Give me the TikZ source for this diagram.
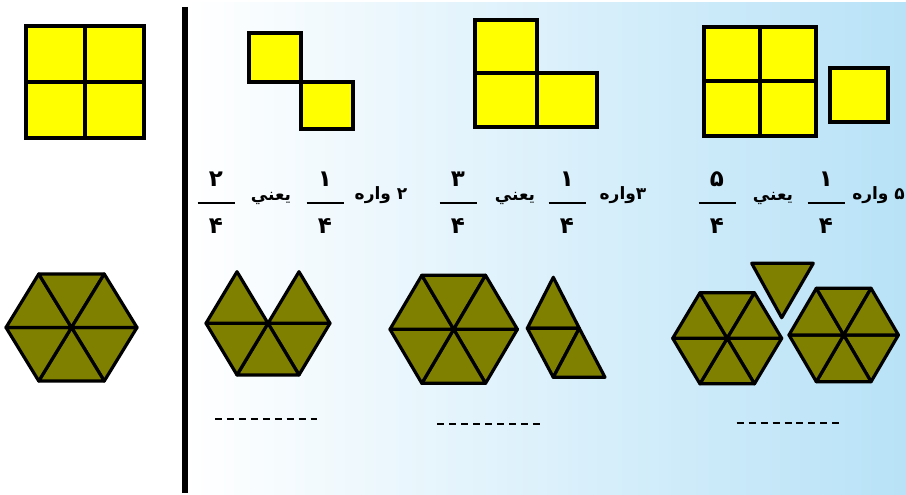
\documentclass[tikz,border=0pt]{standalone}
\usepackage{fontspec}
\newfontfamily\arabicfont[Script=Arabic]{DejaVu Sans}
\TeXXeTstate=1
\usetikzlibrary{positioning}

\definecolor{skyend}{RGB}{184,226,247}
\definecolor{olivetri}{RGB}{128,128,0}
\definecolor{squareyellow}{RGB}{255,255,0}

\tikzset{
  sq/.style={draw=black,fill=squareyellow,line width=3.5pt},
  tri/.style={draw=black,fill=olivetri,line width=3.2pt,line join=round},
  digit/.style={font=\arabicfont\bfseries\fontsize{23}{25}\selectfont,inner sep=0pt},
  word/.style={font=\arabicfont\bfseries\fontsize{17}{19}\selectfont,inner sep=0pt},
  fracbar/.style={line width=1.8pt},
  blank/.style={line width=2.3pt,dash pattern=on 7pt off 4.95pt}
}

% part of a hexagon: centre, half width, half height, start angles of the triangles
\newcommand{\hexpart}[5]{%
  \begin{scope}[shift={(#1,#2)},xscale=#3,yscale=#4/0.866]
    \foreach \a in {#5}
      \draw[tri] (0,0) -- (\a:1) -- (\a+60:1) -- cycle;
  \end{scope}}

% a fraction: name, centre x, numerator, denominator
\newcommand{\fracpart}[4]{%
  \node[digit] (#1num) at (#2,179) {#3};
  \coordinate (#1l) at (#2-18.5,203);
  \coordinate (#1r) at (#2+18.5,203);
  \draw[fracbar] (#1l) -- (#1r);
  \node[digit] (#1den) at (#2,226) {#4};}

\begin{document}
\begin{tikzpicture}[x=1pt,y=-1pt]
  \useasboundingbox (0,0) rectangle (906,495);

  % background
  \fill[left color=white,right color=skyend] (188,3) rectangle (906,494);
  \draw[line width=6pt] (185,7) -- (185,493);

  % whole: four squares
  \foreach \x/\y in {26/26,85/26,26/82,85/82}
    \draw[sq] (\x,\y) rectangle ++(59,56);

  % two squares
  \draw[sq] (249,33) rectangle (301,82);
  \draw[sq] (301,82) rectangle (353,129);

  % three squares
  \draw[sq] (475,20) rectangle (537,73);
  \draw[sq] (475,73) rectangle (537,127);
  \draw[sq] (537,73) rectangle (597,127);

  % five squares
  \foreach \x/\y in {704/27,760/27,704/81,760/81}
    \draw[sq] (\x,\y) rectangle ++(56,55);
  \draw[sq] (830,68) rectangle (888,122);

  % texts
  \fracpart{fa}{216}{۲}{۴}
  \node[word] (ya) at (271,198) {\beginR يعني\endR};
  \fracpart{fb}{325}{۱}{۴}
  \node[word] (wa) at (381,195) {\beginR ۲ واره\endR};

  \fracpart{fc}{458}{۳}{۴}
  \node[word] (yb) at (515,198) {\beginR يعني\endR};
  \fracpart{fd}{567}{۱}{۴}
  \node[word] (wb) at (623,195) {\beginR ۳واره\endR};

  \fracpart{fe}{717}{۵}{۴}
  \node[word] (yc) at (773,198) {\beginR يعني\endR};
  \fracpart{ff}{826}{۱}{۴}
  \node[word,anchor=east] (wc) at (905,195) {\beginR ۵ واره\endR};

  % whole: hexagon
  \hexpart{71.5}{327.5}{65.5}{53.5}{0,60,...,300}

  % two sixths
  \hexpart{268}{323.3}{62}{51.6}{0,60,120,180,300}

  % three sixths
  \hexpart{453.7}{329.3}{63.7}{54}{0,60,...,300}
  \draw[tri] (527.3,328.3) -- (553.3,277.3) -- (579.3,328.3) -- cycle;
  \draw[tri] (527.3,328.3) -- (579.3,328.3) -- (553.3,377.3) -- cycle;
  \draw[tri] (553.3,377.3) -- (579.3,328.3) -- (605,377.3) -- cycle;

  % five sixths
  \hexpart{727.2}{338.3}{54.5}{45.5}{0,60,...,300}
  \hexpart{843.7}{335}{54.7}{46.7}{0,60,...,300}
  \draw[tri] (751.7,263.3) -- (813.3,263.3) -- (781.7,317.7) -- cycle;

  % blanks
  \coordinate (ba) at (215,419);   \coordinate (bb) at (317.3,419);
  \coordinate (bc) at (437.3,424); \coordinate (bd) at (540,424);
  \coordinate (be) at (736.7,423); \coordinate (bf) at (839.3,423);
  \draw[blank] (ba) -- (bb);
  \draw[blank] (bc) -- (bd);
  \draw[blank] (be) -- (bf);
\end{tikzpicture}
\end{document}
